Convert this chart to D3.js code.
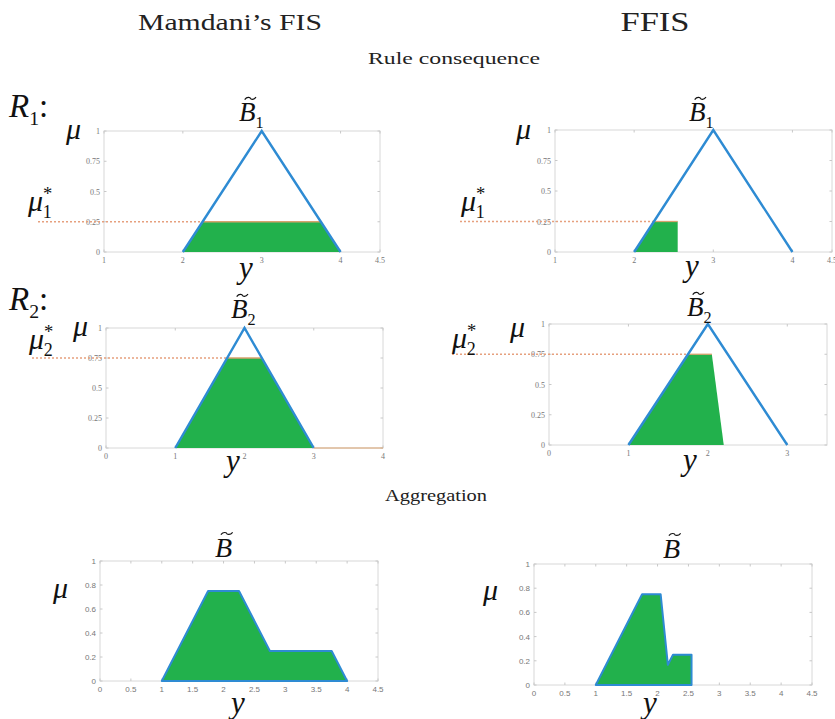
<!DOCTYPE html>
<html>
<head>
<meta charset="utf-8">
<script src="https://cdn.jsdelivr.net/npm/d3@7"></script>
<style>
  html, body { margin: 0; padding: 0; background: #fff; }
  svg { display: block; }
</style>
</head>
<body>
<svg id="chart" width="835" height="719"></svg>
<script>
// Output membership functions of the two rules
const b1Triangle = [[2, 0], [3, 1], [4, 0]];
const b2Triangle = [[1, 0], [2, 1], [3, 0]];

// Firing strengths of the rules
const mu1Star = 0.25;
const mu2Star = 0.75;

// Clipped consequents (Mamdani) and truncated consequents (FFIS)
const mamdaniR1Fill = [[2, 0], [2.25, 0.25], [3.75, 0.25], [4, 0]];
const mamdaniR2Fill = [[1, 0], [1.75, 0.75], [2.25, 0.75], [3, 0]];
const ffisR1Fill = [[2, 0], [2.25, 0.25], [2.55, 0.25], [2.55, 0]];
const ffisR2Fill = [[1, 0], [1.75, 0.75], [2.05, 0.75], [2.2, 0]];

// Aggregated outputs
const mamdaniAggregate = [[1, 0], [1.75, 0.75], [2.25, 0.75], [2.75, 0.25], [3.75, 0.25], [4, 0]];
const ffisAggregate = [[1, 0], [1.75, 0.75], [2.05, 0.75], [2.167, 0.167], [2.25, 0.25], [2.55, 0.25], [2.55, 0]];

// Axis ticks
const ruleYTicks = [0, 0.25, 0.5, 0.75, 1];
const aggYTicks = [0, 0.2, 0.4, 0.6, 0.8, 1];
const r1XTicks = [1, 2, 3, 4, 4.5];
const mamdaniR2XTicks = [0, 1, 2, 3, 4];
const ffisR2XTicks = [0, 1, 2, 3];
const aggXTicks = [0, 0.5, 1, 1.5, 2, 2.5, 3, 3.5, 4, 4.5];

const BLUE = "#2e8bd3";
const GREEN = "#22b14c";
const ORANGE = "#d9a26e";
const DASH = "#e6a07e";
const SERIF = "Liberation Serif";
const SANS = "Liberation Sans";

const svg = d3.select("#chart");

// Headings
function heading(text, x, y, size, width) {
  const t = svg.append("text")
    .attr("x", x).attr("y", y)
    .attr("text-anchor", "middle")
    .style("font-family", SERIF)
    .attr("font-size", size)
    .attr("fill", "#222")
    .text(text);
  if (width) t.attr("textLength", width).attr("lengthAdjust", "spacingAndGlyphs");
}
heading("Mamdani\u2019s FIS", 230, 30, 23, 184);
heading("FFIS", 655, 31, 28, 69);
heading("Rule consequence", 454, 64, 17, 172);
heading("Aggregation", 436, 501, 17, 102);

// Italic math label with optional subscript / superscript
function mathLabel(g, opts) {
  const t = g.append("text")
    .attr("x", opts.x).attr("y", opts.y)
    .attr("text-anchor", opts.anchor || "start")
    .style("font-family", SERIF)
    .style("font-style", "italic")
    .attr("font-size", opts.size)
    .attr("fill", "#111");
  t.append("tspan").text(opts.base);
  if (opts.sup) {
    t.append("tspan")
      .attr("font-size", opts.size * 0.62)
      .style("font-style", "normal")
      .attr("dy", -opts.size * 0.38)
      .text(opts.sup);
  }
  if (opts.sub) {
    t.append("tspan")
      .attr("font-size", opts.size * 0.6)
      .style("font-style", "normal")
      .attr("dx", opts.sup ? -opts.size * 0.32 : 0)
      .attr("dy", opts.sup ? opts.size * 0.62 : opts.size * 0.25)
      .text(opts.sub);
  }
  if (opts.after) {
    t.append("tspan")
      .style("font-style", "normal")
      .attr("dy", opts.sub ? -opts.size * 0.25 : 0)
      .text(opts.after);
  }
  return t;
}

function panel(cfg) {
  const g = svg.append("g");
  const x = d3.scaleLinear().domain(cfg.xDomain).range([cfg.left, cfg.right]);
  const y = d3.scaleLinear().domain([0, 1]).range([cfg.bottom, cfg.top]);

  // Axes box
  g.append("rect")
    .attr("x", cfg.left).attr("y", cfg.top)
    .attr("width", cfg.right - cfg.left).attr("height", cfg.bottom - cfg.top)
    .attr("fill", "none").attr("stroke", "#d8d8d8").attr("stroke-width", 1);

  // Tick marks along the box edges
  const tickLen = 2.5;
  cfg.xTicks.forEach(v => {
    g.append("line").attr("x1", x(v)).attr("x2", x(v))
      .attr("y1", cfg.bottom).attr("y2", cfg.bottom - tickLen)
      .attr("stroke", "#c8c8c8");
    g.append("line").attr("x1", x(v)).attr("x2", x(v))
      .attr("y1", cfg.top).attr("y2", cfg.top + tickLen)
      .attr("stroke", "#c8c8c8");
  });
  cfg.yTicks.forEach(v => {
    g.append("line").attr("x1", cfg.left).attr("x2", cfg.left + tickLen)
      .attr("y1", y(v)).attr("y2", y(v)).attr("stroke", "#c8c8c8");
    g.append("line").attr("x1", cfg.right).attr("x2", cfg.right - tickLen)
      .attr("y1", y(v)).attr("y2", y(v)).attr("stroke", "#c8c8c8");
  });

  // Tick labels
  const tickFont = cfg.sansTicks ? SANS : SERIF;
  g.selectAll(".xt").data(cfg.xTicks).join("text")
    .attr("x", d => x(d)).attr("y", cfg.bottom + 11)
    .attr("text-anchor", "middle")
    .style("font-family", tickFont).attr("font-size", 8).attr("fill", "#777")
    .text(d => d3.format("")(d));
  g.selectAll(".yt").data(cfg.yTicks).join("text")
    .attr("x", cfg.left - 4).attr("y", d => y(d) + 3)
    .attr("text-anchor", "end")
    .style("font-family", tickFont).attr("font-size", 8).attr("fill", "#777")
    .text(d => d3.format("")(d));

  const line = d3.line().x(d => x(d[0])).y(d => y(d[1]));

  // Firing strength guide line
  if (cfg.star != null) {
    g.append("line")
      .attr("x1", cfg.starFrom).attr("x2", x(cfg.starTo))
      .attr("y1", y(cfg.star)).attr("y2", y(cfg.star))
      .attr("stroke", DASH).attr("stroke-width", 1.3)
      .attr("stroke-dasharray", "2,2");
  }

  // Filled consequent
  g.append("path")
    .attr("d", line(cfg.fill) + "Z")
    .attr("fill", GREEN)
    .attr("stroke", cfg.fillStroke || "none")
    .attr("stroke-width", cfg.fillStroke ? 2 : 0)
    .attr("stroke-linejoin", "round");

  // Clipped level drawn across the fill top
  if (cfg.clipTop) {
    g.append("path").attr("d", line(cfg.clipTop))
      .attr("fill", "none").attr("stroke", ORANGE).attr("stroke-width", 1.3);
  }

  // Membership function
  if (cfg.triangle) {
    g.append("path").attr("d", line(cfg.triangle))
      .attr("fill", "none").attr("stroke", BLUE).attr("stroke-width", 2.4)
      .attr("stroke-linejoin", "miter");
  }
  return { g, x, y };
}

// Rule 1, Mamdani
const p1 = panel({
  left: 104, right: 380, top: 131, bottom: 252, xDomain: [1, 4.5],
  xTicks: r1XTicks, yTicks: ruleYTicks,
  triangle: b1Triangle, fill: mamdaniR1Fill,
  clipTop: [mamdaniR1Fill[1], mamdaniR1Fill[2]],
  star: mu1Star, starFrom: 38, starTo: mamdaniR1Fill[1][0]
});
// Rule 1, FFIS
const p2 = panel({
  left: 555, right: 832, top: 130, bottom: 252, xDomain: [1, 4.5],
  xTicks: r1XTicks, yTicks: ruleYTicks,
  triangle: b1Triangle, fill: ffisR1Fill,
  clipTop: [ffisR1Fill[1], ffisR1Fill[2]],
  star: mu1Star, starFrom: 460, starTo: ffisR1Fill[1][0]
});
// Rule 2, Mamdani
const p3 = panel({
  left: 106, right: 383, top: 328, bottom: 448, xDomain: [0, 4],
  xTicks: mamdaniR2XTicks, yTicks: ruleYTicks,
  triangle: b2Triangle, fill: mamdaniR2Fill,
  clipTop: [mamdaniR2Fill[1], mamdaniR2Fill[2]],
  star: mu2Star, starFrom: 32, starTo: mamdaniR2Fill[1][0]
});
p3.g.append("line")
  .attr("x1", p3.x(3)).attr("x2", p3.x(4))
  .attr("y1", p3.y(0)).attr("y2", p3.y(0))
  .attr("stroke", ORANGE).attr("stroke-width", 1.2);
// Rule 2, FFIS
const p4 = panel({
  left: 549, right: 827, top: 324, bottom: 445, xDomain: [0, 3.5],
  xTicks: ffisR2XTicks, yTicks: ruleYTicks,
  triangle: b2Triangle, fill: ffisR2Fill,
  clipTop: [ffisR2Fill[1], ffisR2Fill[2]],
  star: mu2Star, starFrom: 452, starTo: ffisR2Fill[1][0]
});
// Aggregation, Mamdani
const p5 = panel({
  left: 100, right: 378, top: 561, bottom: 681, xDomain: [0, 4.5],
  xTicks: aggXTicks, yTicks: aggYTicks, sansTicks: true,
  fill: mamdaniAggregate, fillStroke: BLUE
});
// Aggregation, FFIS
const p6 = panel({
  left: 534, right: 812, top: 564, bottom: 685, xDomain: [0, 4.5],
  xTicks: aggXTicks, yTicks: aggYTicks, sansTicks: true,
  fill: ffisAggregate, fillStroke: BLUE
});

// Rule labels
mathLabel(svg, { x: 9, y: 117, size: 33, base: "R", sub: "1", after: ":" });
mathLabel(svg, { x: 9, y: 310, size: 33, base: "R", sub: "2", after: ":" });

// Axis symbols
[[p1, 66, 139], [p2, 516, 139], [p3, 73, 336], [p4, 510, 337], [p5, 53, 598], [p6, 483, 600]]
  .forEach(([p, lx, ly]) => mathLabel(p.g, { x: lx, y: ly, size: 30, base: "\u03bc" }));
[[p1, 246, 278], [p2, 692, 276], [p3, 233, 471], [p4, 690, 470], [p5, 238, 713], [p6, 650, 713]]
  .forEach(([p, lx, ly]) => mathLabel(p.g, { x: lx, y: ly, size: 31, base: "y", anchor: "middle" }));

// Firing strength symbols
mathLabel(svg, { x: 28, y: 211, size: 30, base: "\u03bc", sup: "*", sub: "1" });
mathLabel(svg, { x: 461, y: 211, size: 30, base: "\u03bc", sup: "*", sub: "1" });
mathLabel(svg, { x: 29, y: 349, size: 30, base: "\u03bc", sup: "*", sub: "2" });
mathLabel(svg, { x: 452, y: 348, size: 30, base: "\u03bc", sup: "*", sub: "2" });

// Fuzzy set names: italic B with a drawn tilde accent
function setName(left, baseline, sub, size) {
  mathLabel(svg, { x: left, y: baseline, size, base: "B", sub });
  const w = size * 0.42;
  const cx = left + size * 0.42;
  const ty = baseline - size * 0.84;
  const p = d3.path();
  p.moveTo(cx - w / 2, ty + 1.2);
  p.bezierCurveTo(cx - w / 4, ty - 2.5, cx, ty - 0.5, cx, ty);
  p.bezierCurveTo(cx, ty + 0.5, cx + w / 4, ty + 2.5, cx + w / 2, ty - 1.2);
  svg.append("path").attr("d", p.toString())
    .attr("fill", "none").attr("stroke", "#111").attr("stroke-width", 1.2);
}
setName(239, 121, "1", 27);
setName(689, 121, "1", 27);
setName(231, 318, "2", 27);
setName(687, 316, "2", 27);
setName(215, 557, null, 28);
setName(663, 558, null, 28);
</script>
</body>
</html>
